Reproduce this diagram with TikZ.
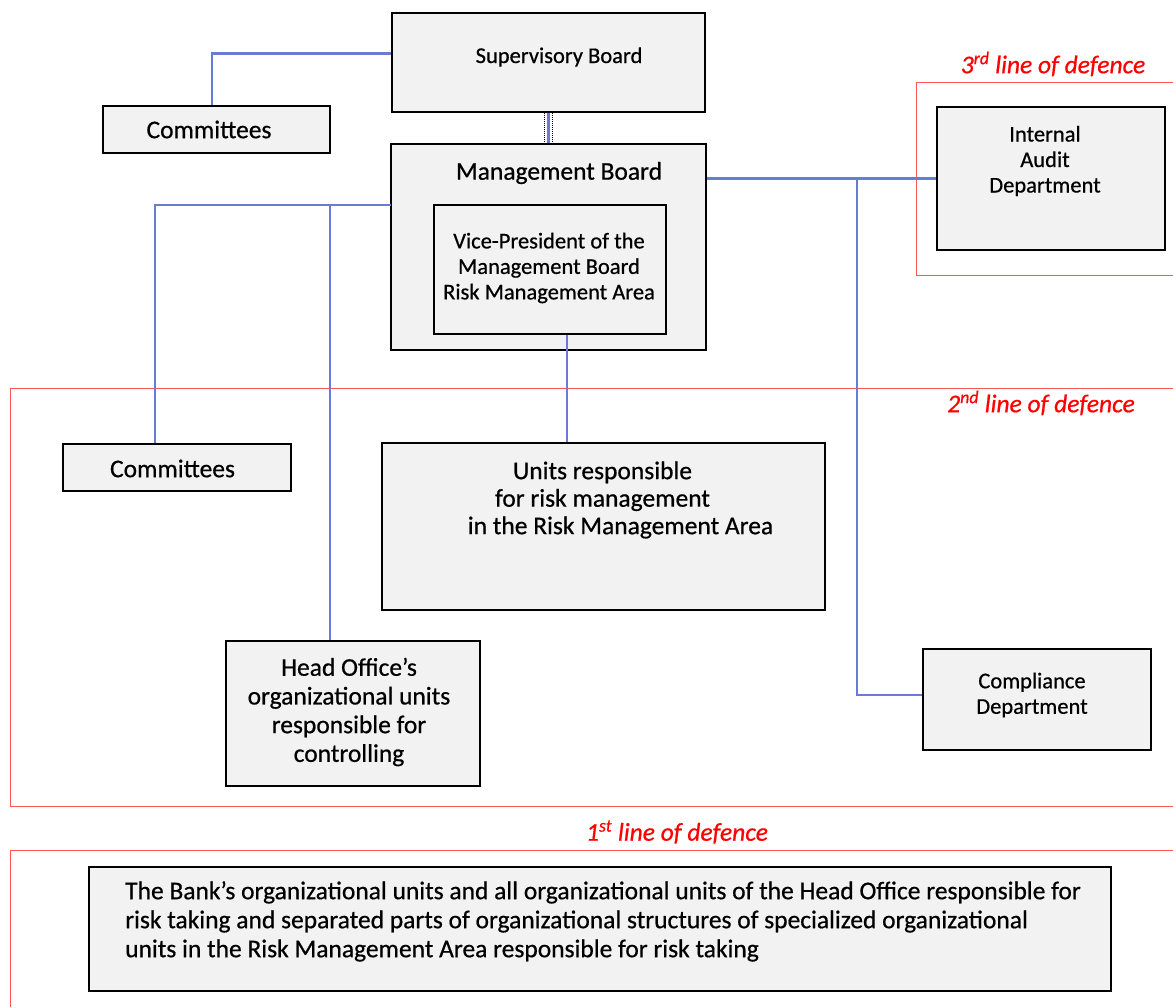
\documentclass[tikz,border=0pt]{standalone}
\usepackage{fontspec}
\setmainfont{Carlito}[UprightFeatures={FakeBold=0.6}, ItalicFeatures={FakeBold=0.6}]
\usepackage{tikz}
\usetikzlibrary{positioning}
\definecolor{boxgray}{RGB}{242,242,242}
\definecolor{linkblue}{RGB}{104,124,212}
\definecolor{defred}{RGB}{255,0,0}
\definecolor{zonered}{RGB}{255,85,85}

\begin{document}
\begin{tikzpicture}[x=1pt, y=-1pt,
  orgbox/.style={draw=black, fill=boxgray, line width=1.8pt, inner sep=0pt},
  orgtext/.style={font=\fontsize{22.5}{25.5}\selectfont, align=center, inner sep=0pt},
  bigtext/.style={orgtext, font=\fontsize{25.5}{28.5}\selectfont},
  link/.style={linkblue, line width=2.2pt},
  zone/.style={zonered, line width=1pt},
  zonelabel/.style={text=defred, font=\fontsize{25.5}{28}\selectfont\itshape, inner sep=0pt}]
\useasboundingbox (0,0) rectangle (1173,1007);
% Lines of defence
\draw[zone] (1173,82) -- (916,82) -- (916,275) -- (1173,275);
\node[zonelabel] (l3) at (1053,64) {3\textsuperscript{rd} line of defence};
\draw[zone] (1173,388) -- (10,388) -- (10,806) -- (1173,806);
\node[zonelabel] (l2) at (1041,403) {2\textsuperscript{nd} line of defence};
\draw[zone] (1173,850) -- (10,850) -- (10,1007);
\node[zonelabel] (l1) at (677,832) {1\textsuperscript{st} line of defence};
% Boards
\node[orgbox, minimum width=313, minimum height=99] (sup) at (548.5,62.5) {};
\node[orgtext] at (559,57) {Supervisory Board};
\node[orgbox, minimum width=315, minimum height=206] (mgmt) at (548.5,247) {};
\node[bigtext] at (559,173) {Management Board};
\node[orgbox, minimum width=232, minimum height=129] (vp) at (550,269.5) {};
\node[orgtext] at (549,268) {Vice-President of the\\Management Board\\Risk Management Area};
% Committees
\node[orgbox, minimum width=227, minimum height=47] (com1) at (216.5,129.5) {};
\node[bigtext] at (209,129.5) {Committees};
\node[orgbox, minimum width=228, minimum height=47] (com2) at (177,467.5) {};
\node[bigtext] at (172.5,468.5) {Committees};
% Audit and compliance
\node[orgbox, minimum width=228, minimum height=143] (audit) at (1051,178.5) {};
\node[orgtext] at (1045,161) {Internal\\Audit\\Department};
\node[orgbox, minimum width=228, minimum height=101] (comp) at (1037,699.5) {};
\node[orgtext] at (1032,695) {Compliance\\Department};
% Risk units
\node[orgbox, minimum width=443, minimum height=167] (units) at (603.5,526.5) {};
\node[bigtext, font=\fontsize{25.5}{27.5}\selectfont] at (602.5,500) {Units responsible\\for risk management\\\hspace*{36pt}in the Risk Management Area};
\node[orgbox, minimum width=254, minimum height=145] (head) at (353,713.5) {};
\node[bigtext, font=\fontsize{25.5}{28.7}\selectfont] at (349,712) {Head Office’s\\organizational units\\responsible for\\controlling};
% First line
\node[orgbox, minimum width=1022, minimum height=124] (bank) at (600,929) {};
\node[bigtext, font=\fontsize{25.5}{29}\selectfont, align=left, anchor=north west] at (125,881) {The Bank’s organizational units and all organizational units of the Head Office responsible for\\risk taking and separated parts of organizational structures of specialized organizational\\units in the Risk Management Area responsible for risk taking};
% Connectors
\coordinate (jl) at (391,205);
\coordinate (jc) at (155,205);
\coordinate (jh) at (330,205);
\coordinate (jr) at (857,179);
\draw[link] ([yshift=9pt]sup.west) -| ([xshift=-4.5pt]com1.north);
\draw[link] (sup.south) -- (mgmt.north);
\draw[densely dotted, line width=1pt] ([xshift=-4pt]sup.south) -- ([xshift=-4pt]mgmt.north);
\draw[densely dotted, line width=1pt] ([xshift=4pt]sup.south) -- ([xshift=4pt]mgmt.north);
\draw[link] (audit.west) -- (audit.west -| mgmt.east);
\draw[link] (jr) |- ([yshift=4.5pt]comp.west);
\draw[link] (jl) -- (jc) -- (jc |- com2.north);
\draw[link] (jh) -- (jh |- head.north);
\draw[link] ([xshift=17pt]vp.south) -- ([xshift=17pt]vp.south |- units.north);
\end{tikzpicture}
\end{document}
